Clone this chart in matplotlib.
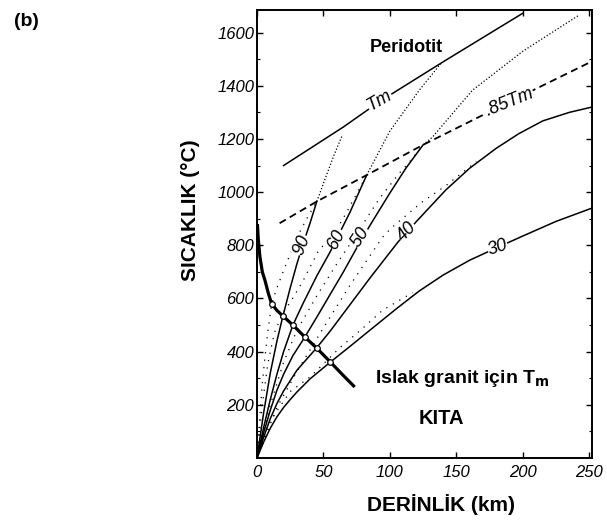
import numpy as np
import matplotlib.pyplot as plt

# ---- data (depth km, temperature C) ----
tm_x = [20, 65, 92, 140, 200]
tm_y = [1100, 1245, 1340, 1490, 1673]

tm85_x = [17, 45, 82.5, 125, 188, 252]
tm85_y = [883, 965, 1064, 1178, 1335, 1492]

granite_x = [0.3, 1, 2.2, 4, 6, 8.5, 11, 15, 19.5, 27, 36, 45, 55, 64, 73.5]
granite_y = [880, 820, 757, 700, 668, 620, 580, 555, 534, 500, 455, 413, 362, 315, 267]

# intersections marked with small circles
marks_x = [11, 19.5, 27, 36, 45, 55]
marks_y = [580, 534, 500, 455, 413, 362]

g90_x = [0, 5, 10, 15, 19.5, 25, 30, 35, 40, 45]
g90_y = [0, 170, 320, 440, 534, 640, 730, 810, 885, 965]

g60_x = [0, 5, 10, 15, 20, 27, 35, 45, 55, 62, 70, 82.5]
g60_y = [0, 115, 220, 315, 400, 500, 585, 685, 775, 845, 925, 1064]

g50_x = [0, 5, 10, 15, 20, 27, 36, 45, 55, 65, 75, 85, 100, 112, 125]
g50_y = [0, 95, 180, 255, 315, 385, 455, 530, 615, 700, 790, 875, 997, 1090, 1178]

g40_x = [0, 5, 10, 15, 20, 30, 45, 55, 70, 85, 106, 120, 142, 160, 180, 197, 215, 235, 252]
g40_y = [0, 78, 148, 205, 252, 330, 415, 477, 577, 677, 812, 890, 1008, 1090, 1165, 1220, 1268, 1300, 1320]

g30_x = [0, 5, 10, 15, 20, 25, 30, 40, 55, 70, 85, 105, 122, 140, 160, 180, 200, 225, 252]
g30_y = [0, 60, 112, 155, 190, 220, 248, 298, 360, 420, 481, 562, 628, 688, 744, 790, 835, 890, 940]

# dotted curves, lower (sparse) and upper (dense) parts
d90_lo_x = [0, 2, 4, 6, 8, 11, 15, 20, 30, 38, 45]
d90_lo_y = [0, 150, 280, 380, 470, 580, 640, 705, 830, 905, 965]
d90_hi_x = [45, 52, 58, 64]
d90_hi_y = [965, 1060, 1140, 1212]

d60_lo_x = [0, 4, 8, 13, 19.5, 26, 34.5, 45.8, 60, 67.5, 82.5]
d60_lo_y = [0, 200, 350, 470, 545, 594, 665, 775, 860, 925, 1064]
d60_hi_x = [82.5, 100, 122, 139]
d60_hi_y = [1064, 1230, 1383, 1488]

d50_lo_x = [0, 10, 20, 30, 45, 60, 77, 83, 92, 107, 115, 125]
d50_lo_y = [0, 200, 360, 480, 610, 730, 857, 906, 975, 1071, 1115, 1178]
d50_hi_x = [125, 132, 162, 200, 242]
d50_hi_y = [1178, 1207, 1383, 1530, 1665]

d40_x = [0, 15, 30, 50, 70, 94.5, 101, 124, 142.5, 165]
d40_y = [0, 190, 325, 490, 650, 831, 865, 962, 1026, 1115]

d30_x = [0, 10, 25, 40, 62, 80, 94.5, 117]
d30_y = [0, 140, 250, 305, 413, 490, 556, 622]

x_ticks = [0, 50, 100, 150, 200, 250]
y_ticks = [200, 400, 600, 800, 1000, 1200, 1400, 1600]

# ---- figure ----
fig = plt.figure(figsize=(6.07, 5.2), dpi=100)
ax = fig.add_axes([257 / 607, 1 - 458 / 520, 335 / 607, 448 / 520])
ax.set_xlim(0, 252)
ax.set_ylim(0, 1685)

k = 'black'
ax.plot(tm_x, tm_y, color=k, lw=1.1)
ax.plot(tm85_x, tm85_y, color=k, lw=1.3, dashes=(4, 2.5))
for gx, gy in [(g90_x, g90_y), (g60_x, g60_y), (g50_x, g50_y),
               (g40_x, g40_y), (g30_x, g30_y)]:
    ax.plot(gx, gy, color=k, lw=1.1)

for dx, dy in [(d90_lo_x, d90_lo_y), (d60_lo_x, d60_lo_y), (d50_lo_x, d50_lo_y),
               (d40_x, d40_y), (d30_x, d30_y)]:
    ax.plot(dx, dy, color=k, lw=0.9, linestyle=(0, (1, 5)))
for dx, dy in [(d90_hi_x, d90_hi_y), (d60_hi_x, d60_hi_y), (d50_hi_x, d50_hi_y)]:
    ax.plot(dx, dy, color=k, lw=0.9, linestyle=(0, (1, 1.6)))

ax.plot(granite_x, granite_y, color=k, lw=2.3, solid_capstyle='butt')
ax.plot(marks_x, marks_y, 'o', ms=4, mfc='white', mec=k, mew=0.9)

# curve labels (handwritten style)
hand = dict(family='Liberation Sans', style='italic', fontsize=13, color=k,
            ha='center', va='center',
            bbox=dict(fc='white', ec='none', pad=0.3))
ax.text(92, 1346, 'Tm', rotation=30, **hand)
ax.text(190, 1338, '.85Tm', rotation=22, **hand)
ax.text(34, 800, '90', rotation=68, **hand)
ax.text(60, 823, '60', rotation=62, **hand)
ax.text(78, 830, '50', rotation=57, **hand)
ax.text(113, 850, '40', rotation=45, **hand)
ax.text(181, 793, '30', rotation=18, **hand)

bold = dict(family='Liberation Sans', weight='bold', color=k)
ax.text(112, 1545, 'Peridotit', ha='center', va='center', fontsize=13, **bold)
ax.text(88.5, 300, 'Islak granit için T$_\\mathbf{m}$', ha='left', va='center',
        fontsize=14, **bold)
ax.text(139, 150, 'KITA', ha='center', va='center', fontsize=14.5, **bold)

# axes styling
for s in ax.spines.values():
    s.set_linewidth(1.4)
ax.set_xticks(x_ticks)
ax.set_yticks(y_ticks)
ax.set_yticks(np.arange(100, 1700, 200), minor=True)
ax.tick_params(direction='in', length=4, width=1, top=True, right=True)
ax.tick_params(which='minor', direction='in', length=2.5, width=0.8, left=True, right=True)
ax.tick_params(axis='y', pad=2)
ax.tick_params(axis='x', pad=5)
for lab in ax.get_xticklabels() + ax.get_yticklabels():
    lab.set_family('Liberation Sans')
    lab.set_style('italic')
    lab.set_fontsize(12)

fig.text(190 / 607, 1 - 210 / 520, 'SICAKLIK (°C)', rotation=90,
         ha='center', va='center', family='Liberation Sans', weight='bold', fontsize=15)
fig.text(441 / 607, 1 - 505 / 520, 'DERİNLİK (km)',
         ha='center', va='center', family='Liberation Sans', weight='bold', fontsize=15)
fig.text(26 / 607, 1 - 21 / 520, '(b)', ha='center', va='center',
         family='Liberation Sans', weight='bold', fontsize=14)

fig.savefig('out.png', dpi=100, facecolor='white')
